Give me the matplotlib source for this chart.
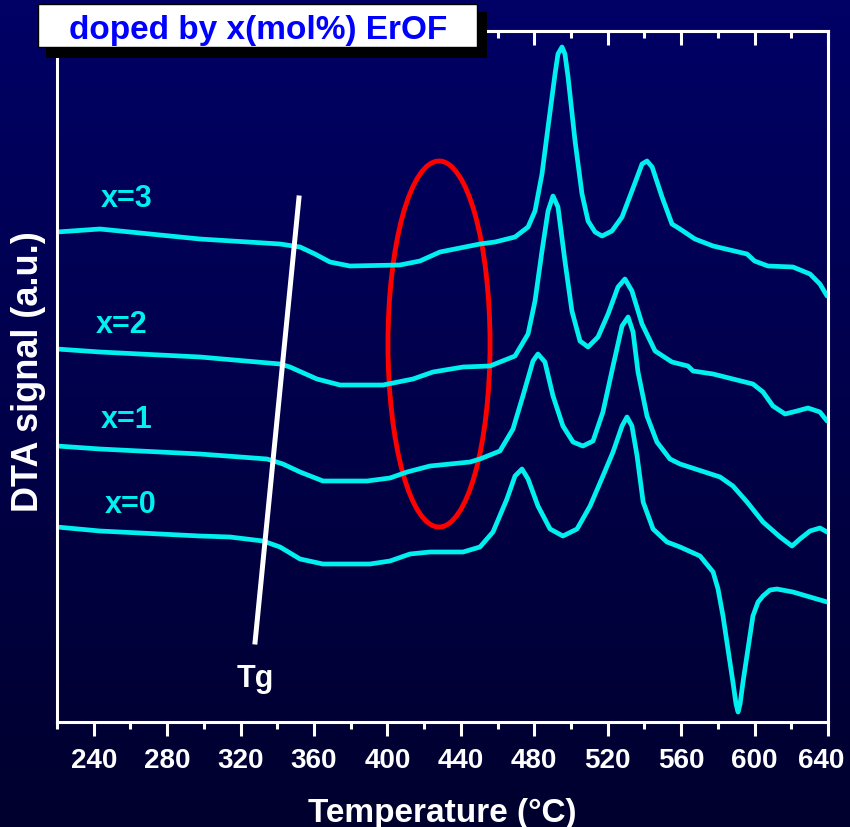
import numpy as np
import matplotlib
matplotlib.use("Agg")
import matplotlib.pyplot as plt
from matplotlib.patches import Ellipse, Rectangle
from matplotlib.ticker import MultipleLocator

plt.rcParams['font.family'] = ['Liberation Sans', 'DejaVu Sans']
plt.rcParams['font.weight'] = 'bold'

# DTA curves, temperature in C and signal in arbitrary units (offset per curve)
t_x3 = [220, 243.4, 270.7, 297.9, 341.5, 352.4, 360.5, 368.7, 379.6, 406.8, 417.7, 428.6, 450.4,
        458.6, 469.5, 476.6, 480.4, 484.2, 487.5, 491.3, 492.9, 495.1, 496.7, 498.4, 502.2, 506.0,
        509.3, 513.1, 516.9, 522.3, 527.8, 533.2, 538.7, 541.4, 544.2, 549.6, 555.0, 559.4, 567.5,
        577.4, 595.9, 600.0, 607.3, 620.9, 630.2, 635.6, 639.5]
s_x3 = [490, 493, 488, 483, 478, 475, 468, 460, 456, 457, 461, 470, 478,
        480, 485, 495, 511, 548, 595, 648, 668, 675, 668, 645, 581, 528,
        501, 490, 486, 491, 505, 531, 558, 561, 555, 525, 498, 493, 483,
        476, 468, 461, 456, 455, 448, 438, 426]

t_x2 = [220, 243.4, 297.9, 341.5, 346.9, 361.6, 374.2, 397.6, 413.9, 424.8, 441.2, 455.9, 458.6,
        469.5, 476.6, 480.4, 484.2, 487.5, 490.2, 492.9, 496.7, 500.5, 504.9, 509.3, 514.7, 520.2,
        525.6, 529.4, 533.2, 538.7, 545.8, 555.0, 563.7, 566.5, 577.4, 599.1, 604.6, 610.0, 616.6,
        623.1, 629.1, 635.6, 639.5]
s_x2 = [373, 370, 365, 358, 355, 343, 337, 337, 343, 350, 355, 356, 358,
        366, 388, 421, 471, 511, 526, 515, 461, 411, 381, 375, 385, 408,
        435, 443, 431, 398, 371, 360, 356, 351, 348, 338, 330, 316, 308,
        311, 314, 310, 301]

t_x1 = [220, 243.4, 297.9, 334.4, 343.1, 352.4, 364.9, 388.9, 401.4, 410.7, 423.2, 445.0, 450.4,
        461.3, 468.4, 473.8, 479.3, 482.0, 485.8, 490.2, 495.6, 501.1, 506.5, 512.0, 517.4, 522.9,
        527.8, 531.1, 533.8, 536.5, 541.4, 546.8, 553.9, 559.4, 581.2, 588.2, 595.9, 604.6, 613.9,
        620.4, 624.7, 630.2, 635.6, 639.5]
s_x1 = [276, 273, 268, 263, 258, 250, 241, 241, 244, 250, 256, 260, 263,
        271, 293, 326, 361, 368, 360, 326, 296, 280, 276, 281, 310, 356,
        396, 405, 390, 350, 306, 280, 263, 258, 245, 236, 220, 200, 185,
        176, 183, 191, 194, 190]

t_x0 = [220, 243.4, 297.9, 314.2, 332.2, 341.5, 352.4, 364.9, 390.5, 401.4, 412.3, 423.2, 441.2,
        450.4, 457.5, 465.1, 469.5, 473.3, 476.6, 482.0, 488.6, 495.6, 503.3, 510.4, 517.4, 522.9,
        527.8, 530.5, 533.2, 536.0, 539.3, 544.7, 552.3, 559.4, 570.3, 577.4, 580.1, 582.8, 585.5,
        588.2, 589.9, 591.0, 592.1, 593.7, 596.4, 599.1, 601.9, 604.6, 608.4, 612.2, 620.9, 639.5]
s_x0 = [195, 191, 186, 185, 181, 175, 163, 158, 158, 161, 168, 170, 170,
        175, 190, 223, 246, 253, 243, 216, 193, 186, 193, 216, 246, 270,
        296, 305, 296, 266, 220, 193, 180, 175, 166, 150, 133, 106, 73,
        40, 18, 10, 18, 40, 73, 106, 120, 126, 132, 133, 130, 120]

labels = ['x=3', 'x=2', 'x=1', 'x=0']
label_t = [258, 255, 258, 260]
label_s = [516, 390, 295, 210]

xticks = [240, 280, 320, 360, 400, 440, 480, 520, 560, 600, 640]

# Tg marker line and the highlighted region
tg_t = [327.9, 351.8]
tg_s = [80, 524]
ellipse_center = (428.1, 378)
ellipse_size = (55.6, 366)

cyan = '#00F0F0'

fig = plt.figure(figsize=(8.5, 8.28), dpi=100)

# gradient navy background
bg = fig.add_axes([0, 0, 1, 1], zorder=-10)
grad = np.linspace(0, 1, 256).reshape(-1, 1)
top_col = np.array([0, 0, 102]) / 255.0
bot_col = np.array([0, 0, 46]) / 255.0
img = top_col[None, None, :] * (1 - grad[:, :, None]) + bot_col[None, None, :] * grad[:, :, None]
bg.imshow(img, aspect='auto', extent=[0, 1, 0, 1])
bg.axis('off')

ax = fig.add_axes([57 / 850, 1 - 723 / 828, 771 / 850, 691 / 828])
ax.set_facecolor('none')

for t, s in [(t_x3, s_x3), (t_x2, s_x2), (t_x1, s_x1), (t_x0, s_x0)]:
    ax.plot(t, s, color=cyan, lw=3.4, solid_joinstyle='round', solid_capstyle='round')

for lab, lt, ls in zip(labels, label_t, label_s):
    ax.text(lt, ls, lab, color=cyan, fontsize=22, ha='center', va='baseline')

ax.plot(tg_t, tg_s, color='white', lw=3.6)
ax.text(327.9, 36, 'Tg', color='white', fontsize=22, ha='center', va='baseline')

ax.add_patch(Ellipse(ellipse_center, ellipse_size[0], ellipse_size[1],
                     fill=False, edgecolor='#FF0000', lw=3.5))

ax.set_xlim(220, 640)
ax.set_ylim(0, 691)
ax.set_yticks([])
ax.xaxis.set_minor_locator(MultipleLocator(20))
ax.set_xticks(xticks)
ax.set_xticklabels([])
ax.tick_params(axis='x', which='major', direction='out', length=10, width=2.2, color='white')
ax.tick_params(axis='x', which='minor', direction='out', length=5, width=2.2, color='white')
for sp in ax.spines.values():
    sp.set_color('white')
    sp.set_linewidth(2.2)

# tick labels drawn by hand so the last one stays inside the figure
for i, v in enumerate(xticks):
    dx = -5 if v == xticks[-1] else 0
    ax.annotate(str(v), xy=(v, 0), xycoords=('data', 'axes fraction'),
                xytext=(dx, -32.4), textcoords='offset points',
                color='white', fontsize=20, ha='center', va='baseline',
                annotation_clip=False)

top = ax.secondary_xaxis('top')
top.set_xticks(xticks)
top.xaxis.set_minor_locator(MultipleLocator(20))
top.tick_params(axis='x', which='major', direction='in', length=10, width=2.2,
                color='white', labeltop=False)
top.tick_params(axis='x', which='minor', direction='in', length=5, width=2.2, color='white')
top.spines['top'].set_color('white')
top.spines['top'].set_linewidth(2.2)

fig.text(442 / 850, 1 - 822 / 828, 'Temperature (°C)', color='white', fontsize=24,
         ha='center', va='baseline')
fig.text(28 / 850, 1 - 372 / 828, 'DTA signal (a.u.)', color='white', fontsize=26,
         ha='center', va='center', rotation=90)

# title box with drop shadow
fig.add_artist(Rectangle((46 / 850, 1 - 59 / 828), 441 / 850, 46 / 828,
                         transform=fig.transFigure, facecolor='black', edgecolor='none', zorder=5))
fig.add_artist(Rectangle((38 / 850, 1 - 48 / 828), 439 / 850, 43 / 828,
                         transform=fig.transFigure, facecolor='white', edgecolor='black',
                         lw=1, zorder=6))
fig.text(258 / 850, 1 - 39 / 828, 'doped by x(mol%) ErOF', color='#0000FF', fontsize=24,
         ha='center', va='baseline', zorder=7)

fig.savefig('out.png', dpi=100)
